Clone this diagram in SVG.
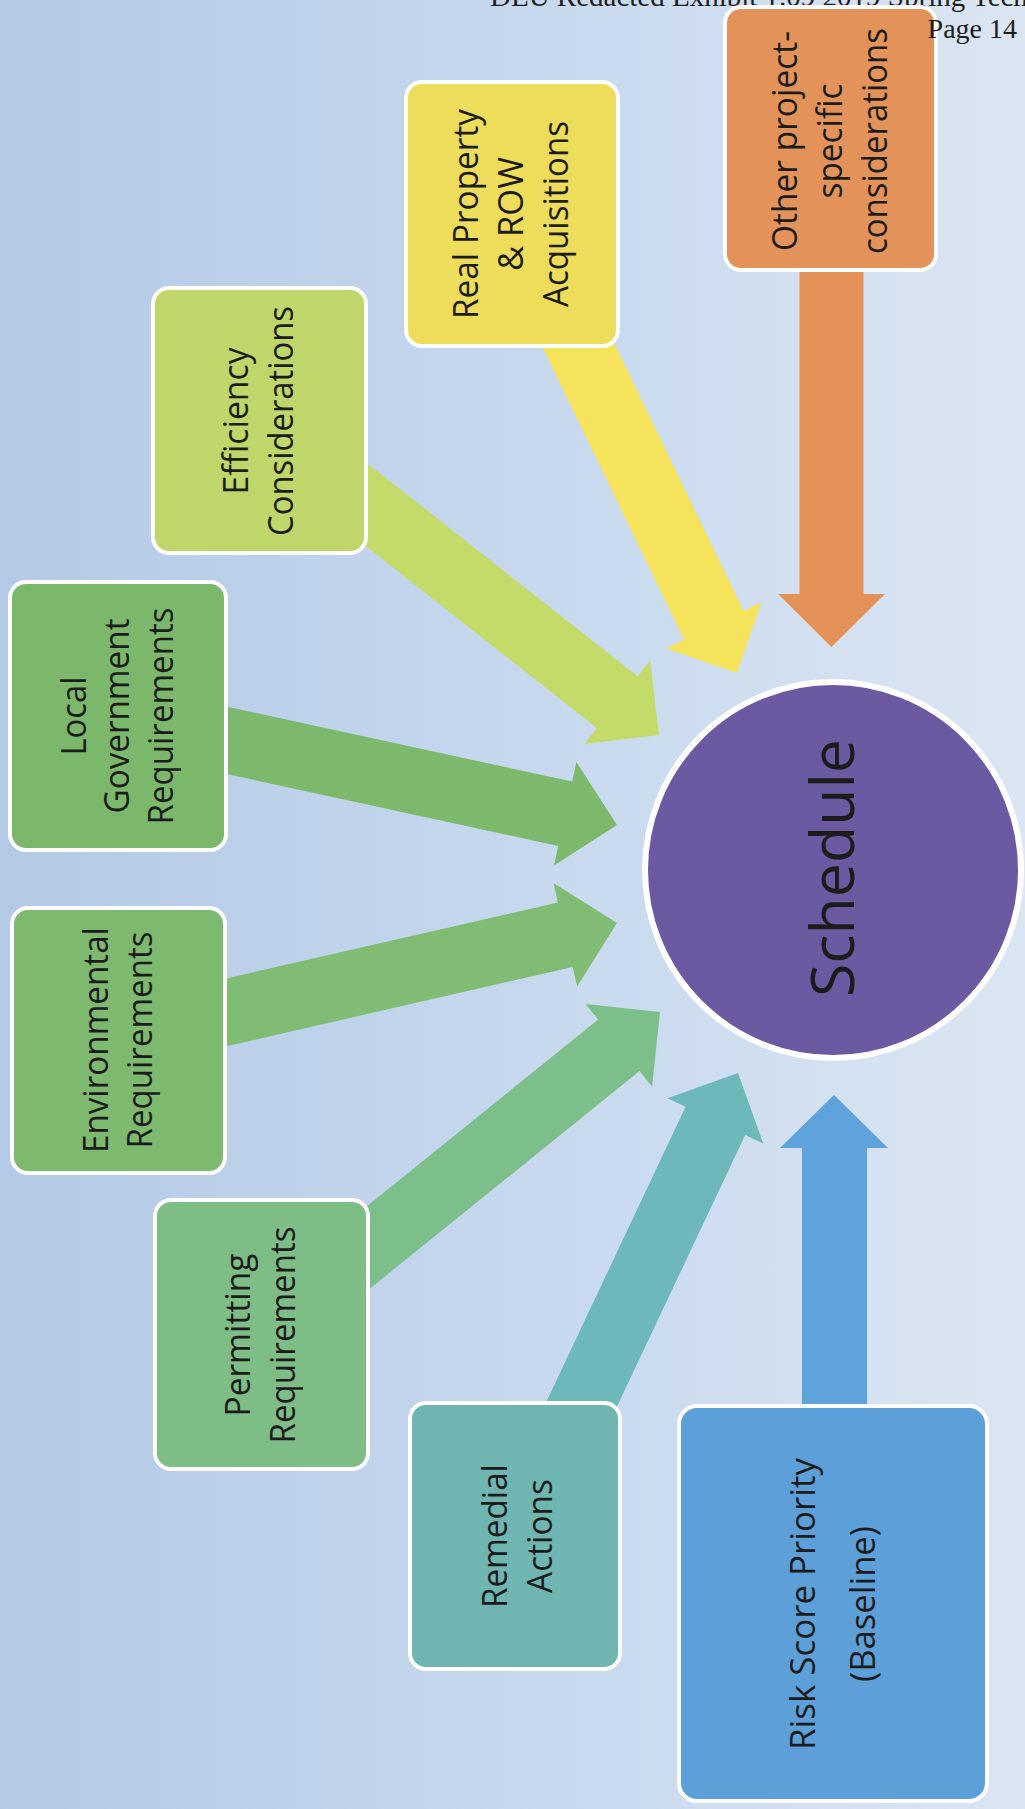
<svg xmlns="http://www.w3.org/2000/svg" width="1025" height="1809" viewBox="0 0 1025 1809">
<defs>
<linearGradient id="bg" x1="0" y1="0" x2="1" y2="0">
<stop offset="0" stop-color="#b3c9e6"/>
<stop offset="0.55" stop-color="#c8d9ee"/>
<stop offset="1" stop-color="#dbe6f2"/>
</linearGradient>
<style>
.box{stroke:#ffffff;stroke-width:4}
.lbl{font-family:"Open Sans","Noto Sans","Liberation Sans",sans-serif;font-size:34px;fill:#1c1c1c;text-anchor:middle}
.big{font-size:35px}
.hdr{font-family:"Liberation Serif","Times New Roman",serif;fill:#1e1e1e}
</style>
</defs>
<rect x="0" y="0" width="1025" height="1809" fill="url(#bg)"/>
<text class="hdr" x="490" y="6" font-size="29">DEU Redacted Exhibit 1.09 2019 Spring Tech</text>
<g id="connectors">
<polygon fill="#e39156" points="799.5,265 863.5,265 863.5,594 885,594 831.5,647 778,594 799.5,594"/>
<polygon fill="#5fa3dc" points="802,1410 802,1148 780,1148 834,1095 888,1148 867,1148 867,1410"/>
<polygon fill="#f5e35c" points="526.8,314.4 684.2,639.7 666.2,648.4 737,673 761.6,602.2 743.6,610.9 586.2,285.6"/>
<polygon fill="#c4db6a" points="279.6,478.2 596.9,728.1 584.5,743.9 659,735 650.1,660.5 637.7,676.3 320.4,426.4"/>
<polygon fill="#7db96c" points="143,755.8 558.2,846 554,865.6 617,825 576.4,762 572.2,781.6 157,691.4"/>
<polygon fill="#80bc74" points="157.4,1062 572.7,967 577.1,986.5 617,923 553.5,883.1 557.9,902.6 142.6,997.6"/>
<polygon fill="#7dbf8a" points="320.7,1328.3 639.5,1071 652.1,1086.5 660,1012 585.5,1004.1 598.1,1019.6 279.3,1276.9"/>
<polygon fill="#6db8b8" points="589.8,1464.1 745.2,1135 763.3,1143.5 738,1073 667.5,1098.3 685.6,1106.8 530.2,1435.9"/>
</g>
<g id="node-schedule">
<circle cx="833" cy="870" r="188" fill="#6b5aa2" stroke="#ffffff" stroke-width="6"/>
<text class="lbl" transform="translate(854,868) rotate(-90)" textLength="258" lengthAdjust="spacingAndGlyphs" style="font-size:61px">Schedule</text>
</g>
<g id="node-other">
<rect class="box" x="725" y="7" width="211" height="263" rx="16" fill="#e3935a"/>
<text class="lbl" transform="translate(797,141) rotate(-90)" textLength="220" lengthAdjust="spacingAndGlyphs">Other project-</text>
<text class="lbl" transform="translate(842,141) rotate(-90)" textLength="115" lengthAdjust="spacingAndGlyphs">specific</text>
<text class="lbl" transform="translate(887,141) rotate(-90)" textLength="226" lengthAdjust="spacingAndGlyphs">considerations</text>
</g>
<g id="node-realproperty">
<rect class="box" x="406" y="82" width="212" height="264" rx="16" fill="#eedc5b"/>
<text class="lbl" transform="translate(478,214) rotate(-90)" textLength="210" lengthAdjust="spacingAndGlyphs">Real Property</text>
<text class="lbl" transform="translate(523,214) rotate(-90)" textLength="114" lengthAdjust="spacingAndGlyphs">&amp; ROW</text>
<text class="lbl" transform="translate(568,214) rotate(-90)" textLength="186" lengthAdjust="spacingAndGlyphs">Acquisitions</text>
</g>
<g id="node-efficiency">
<rect class="box" x="153" y="288" width="213" height="265" rx="16" fill="#bfd66a"/>
<text class="lbl" transform="translate(248,421) rotate(-90)" textLength="147" lengthAdjust="spacingAndGlyphs">Efficiency</text>
<text class="lbl" transform="translate(293,421) rotate(-90)" textLength="230" lengthAdjust="spacingAndGlyphs">Considerations</text>
</g>
<g id="node-localgov">
<rect class="box" x="10" y="582" width="216" height="268" rx="16" fill="#7cb86b"/>
<text class="lbl" transform="translate(86,716) rotate(-90)" textLength="79" lengthAdjust="spacingAndGlyphs">Local</text>
<text class="lbl" transform="translate(129,716) rotate(-90)" textLength="195" lengthAdjust="spacingAndGlyphs">Government</text>
<text class="lbl" transform="translate(173,716) rotate(-90)" textLength="217" lengthAdjust="spacingAndGlyphs">Requirements</text>
</g>
<g id="node-environmental">
<rect class="box" x="12" y="908" width="213" height="265" rx="16" fill="#7eb970"/>
<text class="lbl" transform="translate(108,1040) rotate(-90)" textLength="226" lengthAdjust="spacingAndGlyphs">Environmental</text>
<text class="lbl" transform="translate(152,1040) rotate(-90)" textLength="217" lengthAdjust="spacingAndGlyphs">Requirements</text>
</g>
<g id="node-permitting">
<rect class="box" x="155" y="1200" width="213" height="269" rx="16" fill="#7fbd86"/>
<text class="lbl" transform="translate(250,1335) rotate(-90)" textLength="163" lengthAdjust="spacingAndGlyphs">Permitting</text>
<text class="lbl" transform="translate(295,1335) rotate(-90)" textLength="217" lengthAdjust="spacingAndGlyphs">Requirements</text>
</g>
<g id="node-remedial">
<rect class="box" x="410" y="1403" width="210" height="266" rx="16" fill="#6fb6b3"/>
<text class="lbl" transform="translate(507,1536) rotate(-90)" textLength="144" lengthAdjust="spacingAndGlyphs">Remedial</text>
<text class="lbl" transform="translate(552,1536) rotate(-90)" textLength="114" lengthAdjust="spacingAndGlyphs">Actions</text>
</g>
<g id="node-riskscore">
<rect class="box" x="679" y="1406" width="308" height="395" rx="18" fill="#5d9fd8"/>
<text class="lbl big" transform="translate(815,1604) rotate(-90)" textLength="292" lengthAdjust="spacingAndGlyphs">Risk Score Priority</text>
<text class="lbl big" transform="translate(875,1604) rotate(-90)" textLength="156" lengthAdjust="spacingAndGlyphs">(Baseline)</text>
</g>
<text class="hdr" x="1017" y="38" font-size="28" text-anchor="end">Page 14</text>
</svg>
